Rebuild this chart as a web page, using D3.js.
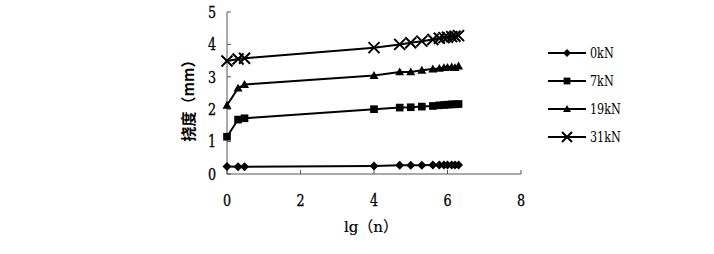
<!DOCTYPE html>
<html><head><meta charset="utf-8">
<script src="https://cdn.jsdelivr.net/npm/d3@7"></script>
<style>body{margin:0;background:#fff;}svg{display:block;}</style>
</head><body>
<svg id="c" width="714" height="254"></svg>
<script>
const lgN = [0, 0.301, 0.477, 4, 4.699, 5, 5.301, 5.602, 5.778, 5.903, 6, 6.114, 6.204, 6.301];
const s0kN  = [0.23,0.22,0.22,0.25,0.27,0.27,0.27,0.28,0.28,0.28,0.28,0.28,0.28,0.28];
const s7kN  = [1.15,1.68,1.72,2.0,2.05,2.06,2.08,2.1,2.12,2.13,2.14,2.15,2.15,2.16];
const s19kN = [2.12,2.65,2.76,3.04,3.15,3.15,3.2,3.24,3.26,3.28,3.29,3.3,3.28,3.33];
const s31kN = [3.49,3.55,3.57,3.9,4.0,4.05,4.1,4.15,4.19,4.21,4.22,4.24,4.25,4.27];
const seriesNames = ["0kN","7kN","19kN","31kN"];
const seriesMarkers = ["diamond","square","triangle","cross"];
const xTicks = [0,2,4,6,8];
const yTicks = [0,1,2,3,4,5];
const xTitle = "lg（n）";
const yTitle = "挠度（mm）";

const series = [s0kN,s7kN,s19kN,s31kN].map((v,i)=>({name:seriesNames[i],marker:seriesMarkers[i],values:v}));
const svg = d3.select("#c");
const font = "DejaVu Serif";
const x = d3.scaleLinear().domain([0,8]).range([227,521]);
const y = d3.scaleLinear().domain([0,5]).range([174,12]);

const ax = svg.append("g");
ax.append("line").attr("x1",x(0)).attr("x2",x(0)).attr("y1",y(5)).attr("y2",y(0)).attr("stroke","#555").attr("stroke-width",1);
ax.append("line").attr("x1",x(0)).attr("x2",x(8)).attr("y1",y(0)).attr("y2",y(0)).attr("stroke","#555").attr("stroke-width",1);
yTicks.forEach(t=>{
  ax.append("line").attr("x1",x(0)).attr("x2",x(0)+4).attr("y1",y(t)).attr("y2",y(t)).attr("stroke","#555");
  ax.append("text").attr("x",x(0)-11).attr("y",y(t)+5.5).attr("text-anchor","end")
    .attr("font-family",font).attr("font-size",15).attr("transform-origin",`${x(0)-11}px ${y(t)}px`).attr("transform","scale(0.85,1.05)")
    .attr("stroke","#000").attr("stroke-width",0.3).text(t);
});
xTicks.forEach(t=>{
  ax.append("text").attr("x",x(t)).attr("y",y(0)+32).attr("text-anchor","middle")
    .attr("font-family",font).attr("font-size",15).attr("transform-origin",`${x(t)}px ${y(0)+27}px`).attr("transform","scale(0.85,1.05)")
    .attr("stroke","#000").attr("stroke-width",0.3).text(t);
  ax.append("line").attr("x1",x(t)).attr("x2",x(t)).attr("y1",y(0)).attr("y2",y(0)-4).attr("stroke","#555");
});
svg.append("text").attr("x",371).attr("y",232).attr("text-anchor","middle")
  .attr("font-family","'DejaVu Serif', 'Noto Sans CJK SC'").attr("font-size",15).attr("stroke","#000").attr("stroke-width",0.2).text(xTitle);
svg.append("text").attr("transform","translate(194,97) rotate(-90)").attr("text-anchor","middle")
  .attr("font-family","'Noto Sans CJK SC'").attr("font-size",15).attr("font-weight","bold").text(yTitle);

function marker(g, type, cx, cy, s){
  if(type==="diamond"){
    g.append("path").attr("d",`M${cx},${cy-s}L${cx+s},${cy}L${cx},${cy+s}L${cx-s},${cy}Z`).attr("fill","#000");
  } else if(type==="square"){
    g.append("rect").attr("x",cx-s*0.85).attr("y",cy-s*0.85).attr("width",s*1.7).attr("height",s*1.7).attr("fill","#000");
  } else if(type==="triangle"){
    g.append("path").attr("d",`M${cx},${cy-s}L${cx+s},${cy+s*0.75}L${cx-s},${cy+s*0.75}Z`).attr("fill","#000");
  } else {
    g.append("path").attr("d",`M${cx-s},${cy-s}L${cx+s},${cy+s}M${cx-s},${cy+s}L${cx+s},${cy-s}`).attr("stroke","#000").attr("stroke-width",2);
  }
}

const line = d3.line().x(d=>x(d[0])).y(d=>y(d[1]));
series.forEach(s=>{
  const pts = lgN.map((v,i)=>[v,s.values[i]]);
  const g = svg.append("g");
  g.append("path").attr("d",line(pts)).attr("fill","none").attr("stroke","#000").attr("stroke-width",2);
  pts.forEach(p=>marker(g,s.marker,x(p[0]),y(p[1]),s.marker==="cross"?5.5:4.5));
});

series.forEach((s,i)=>{
  const ly = 53 + i*28;
  const g = svg.append("g");
  g.append("line").attr("x1",548).attr("x2",586).attr("y1",ly).attr("y2",ly).attr("stroke","#000").attr("stroke-width",2);
  marker(g,s.marker,567,ly,s.marker==="cross"?5:4);
  g.append("text").attr("x",590).attr("y",ly+5).attr("font-family",font).attr("font-size",14)
    .attr("transform-origin",`590px ${ly}px`).attr("transform","scale(0.8,1)").text(s.name);
});
</script>
</body></html>
